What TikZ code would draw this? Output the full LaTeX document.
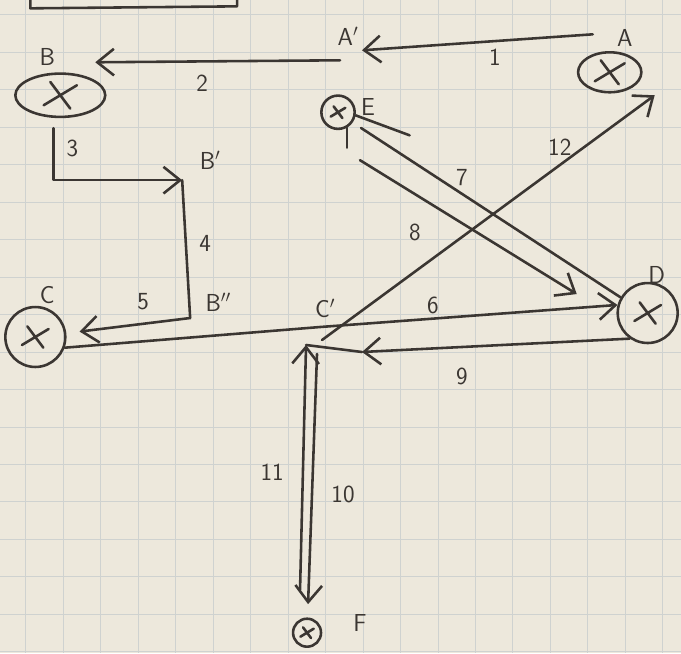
\documentclass[tikz,border=0pt]{standalone}
\usepackage{tikz}
\usetikzlibrary{positioning,arrows.meta,shapes.geometric}
\definecolor{ink}{HTML}{3B3632}
\definecolor{paper}{HTML}{EDE8DC}
\definecolor{gridc}{HTML}{CFD2D0}
\begin{document}
\begin{tikzpicture}[x=0.3mm, y=-0.3mm,
  every node/.style={font=\sffamily\fontsize{21}{25}\selectfont, text=ink},
  spot/.style={draw=ink, line width=2.2pt, inner sep=0pt, path picture={
    \draw[ink, line width=2.2pt, line cap=round]
      ([shift={(-#1,-0.6*#1)}]path picture bounding box.center) -- ([shift={(#1,0.6*#1)}]path picture bounding box.center)
      ([shift={(-0.6*#1,0.8*#1)}]path picture bounding box.center) -- ([shift={(0.6*#1,-0.8*#1)}]path picture bounding box.center);}},
  oval/.style={spot=#1, ellipse},
  ring/.style={spot=#1, circle},
  lab/.style={inner sep=0pt},
  line/.style={draw=ink, line width=2.2pt, line cap=round, line join=round},
  arr/.style={line, -{Straight Barb[length=5mm, width=8mm]}}]
% paper and grid
\fill[paper] (0,0) rectangle (681,653);
\foreach \i in {0,...,17} \draw[gridc, line width=0.6pt] ({25.5+37.5*\i},0) -- ({25.5+37.5*\i},653);
\foreach \i in {0,...,17} \draw[gridc, line width=0.6pt] (0,{14.5+37.5*\i}) -- (681,{14.5+37.5*\i});
\useasboundingbox (0,0) rectangle (681,653);
\draw[line] (30,0) -- (30,8) -- (237,6) -- (237,0);
% places
\node[oval=4.5mm, minimum width=19mm, minimum height=12mm] (A) at (610,72) {};
\node[oval=5mm, minimum width=27mm, minimum height=13mm] (B) at (60,95) {};
\node[ring=4mm, minimum size=18mm] (C) at (35,337) {};
\node[ring=4mm, minimum size=18mm] (D) at (648,313) {};
\node[ring=2.2mm, minimum size=10mm] (E) at (338,112) {};
\node[ring=2mm, minimum size=8.4mm] (F) at (307,633) {};
\coordinate (Ap) at (362,50);
\coordinate (Bp) at (182,180);
\coordinate (Bpp) at (190,318);
\coordinate (Cp) at (320,327);
\coordinate (top) at (306,345);
\coordinate (a1) at (593,34);
\coordinate (a2) at (340,60);
\coordinate (b2) at (95,62);
\coordinate (e8) at (360,160);
\coordinate (d8) at (577,294);
\coordinate (c12) at (322,340);
\coordinate (a12) at (655,95);
\coordinate (g9) at (362,352);
\coordinate (f11) at (300,590);
\coordinate (t10) at (317,354);
% letters
\node[lab] (lA) at (625,38) {A};
\node[lab] (lAp) at (348,36) {A$'$};
\node[lab] (lB) at (47,57) {B};
\node[lab] (lBp) at (210,160) {B$'$};
\node[lab] (lBpp) at (218,302) {B$''$};
\node[lab] (lC) at (47,295) {C};
\node[lab] (lCp) at (325,308) {C$'$};
\node[lab] (lD) at (657,275) {D};
\node[lab] (lE) at (368,107) {E};
\node[lab] (lF) at (360,623) {F};
% numbers
\node[lab] (n1) at (495,57) {1};
\node[lab] (n2) at (202,83) {2};
\node[lab] (n3) at (72,148) {3};
\node[lab] (n4) at (205,243) {4};
\node[lab] (n5) at (143,302) {5};
\node[lab] (n6) at (433,305) {6};
\node[lab] (n7) at (462,177) {7};
\node[lab] (n8) at (415,232) {8};
\node[lab] (n9) at (462,376) {9};
\node[lab] (n10) at (343,495) {10};
\node[lab] (n11) at (272,472) {11};
\node[lab] (n12) at (560,147) {12};
% moves
\draw[arr] (a1) -- (Ap);
\draw[arr] (a2) -- (b2);
\draw[arr] ([xshift=-2mm,yshift=-3mm]B.south) |- (Bp);
\draw[line] (Bp) -- (Bpp);
\draw[arr, shorten >=4mm] (Bpp) -- (C);
\draw[arr] (C.-20) -- (Cp) -- (D.165);
\draw[line] (E.-10) -- ++(54,20);
\draw[line] (E.-60) -- ++(0,20);
\draw[line, shorten <=3mm] (E.-35) -- (D.150);
\draw[arr] (e8) -- (d8);
\draw[arr] (D.-125) -- (g9);
\draw[line] (g9) -- (top);
\draw[arr] (f11) -- (top);
\draw[arr, shorten >=4mm] (t10) -- (F);
\draw[arr] (c12) -- (a12);
\end{tikzpicture}
\end{document}
